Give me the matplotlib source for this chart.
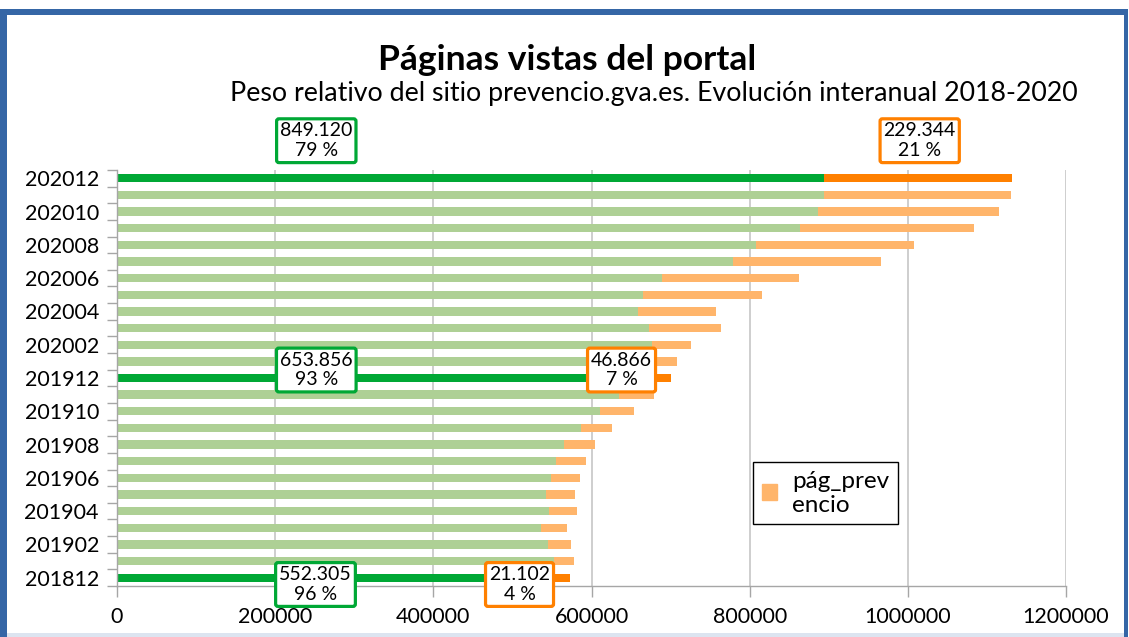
import matplotlib
matplotlib.use("Agg")
import matplotlib.pyplot as plt
from matplotlib.patches import Patch, Rectangle
from matplotlib.legend_handler import HandlerPatch

plt.rcParams['font.family'] = ['Lato', 'DejaVu Sans']

# ---- data (201812 -> 202012) ----
months = ['201812', '201901', '201902', '201903', '201904', '201905', '201906',
          '201907', '201908', '201909', '201910', '201911', '201912',
          '202001', '202002', '202003', '202004', '202005', '202006',
          '202007', '202008', '202009', '202010', '202011', '202012']
pag_resto = [552305, 552700, 545000, 536400, 546400, 542700, 549100,
             555400, 565300, 586100, 611300, 634800, 653856,
             668000, 676700, 673000, 658300, 665700, 689500,
             779500, 808500, 864000, 887000, 894300, 894300]
pag_prevencio = [21102, 25200, 29300, 32500, 35100, 36600, 36500,
                 37900, 39200, 39600, 42000, 44100, 46866,
                 40400, 49600, 90900, 99700, 150100, 173200,
                 186000, 199700, 219100, 227800, 235600, 237900]
highlight = ['201812', '201912', '202012']
xticks = [0, 200000, 400000, 600000, 800000, 1000000, 1200000]

# annotation boxes: (text, x value, y position in category units, colour key)
box_texts = ['849.120\n79 %', '229.344\n21 %',
             '653.856\n93 %', '46.866\n7 %',
             '552.305\n96 %', '21.102\n4 %']
box_x = [252000, 1015000, 252000, 638000, 251000, 509000]
box_y = [26.26, 26.26, 12.48, 12.48, -0.41, -0.41]
box_kind = ['g', 'o', 'g', 'o', 'g', 'o']

title = 'Páginas vistas del portal'
subtitle = 'Peso relativo del sitio prevencio.gva.es. Evolución interanual 2018-2020'
legend_label = 'pág_prev\nencio'

# ---- colours ----
G_LIGHT = '#aed095'
G_DARK = '#00a835'
O_LIGHT = '#ffb56b'
O_DARK = '#ff8000'

W, H = 1129, 637
fig = plt.figure(figsize=(W / 100, H / 100), dpi=100)
fig.patch.set_facecolor('white')

ax = fig.add_axes([117 / W, 1 - 586 / H, (1066 - 117) / W, (586 - 170) / H])

ypos = list(range(len(months)))
gcol = [G_DARK if m in highlight else G_LIGHT for m in months]
ocol = [O_DARK if m in highlight else O_LIGHT for m in months]
ax.barh(ypos, pag_resto, height=0.5, color=gcol, zorder=2)
ax.barh(ypos, pag_prevencio, left=pag_resto, height=0.5, color=ocol, zorder=2)

ax.set_xlim(0, 1200000)
ax.set_ylim(-0.5, len(months) - 0.5)

ax.set_xticks(xticks)
ax.set_xticklabels([str(v) for v in xticks])
ax.set_yticks(ypos[::2])
ax.set_yticklabels(months[::2])
ax.set_yticks([i - 0.5 for i in range(len(months) + 1)], minor=True)

ax.tick_params(axis='y', which='major', length=0, pad=13, labelsize=15.5)
ax.tick_params(axis='y', which='minor', length=7, width=1, color='#a6a6a6')
ax.tick_params(axis='x', which='major', length=8, width=1, color='#a6a6a6',
               pad=7, labelsize=15.5)

ax.grid(axis='x', color='#c6c6c6', linewidth=1.2, zorder=0)
ax.set_axisbelow(True)
for s in ['top', 'right']:
    ax.spines[s].set_visible(False)
for s in ['left', 'bottom']:
    ax.spines[s].set_color('#a6a6a6')
    ax.spines[s].set_linewidth(1)

# annotation boxes
for t, x, y, k in zip(box_texts, box_x, box_y, box_kind):
    ec = G_DARK if k == 'g' else O_DARK
    ax.text(x, y, t, ha='center', va='center', fontsize=14, linespacing=1.2,
            zorder=6, clip_on=False,
            bbox=dict(boxstyle='round,pad=0.18,rounding_size=0.12', fc='white',
                      ec=ec, lw=2.3))


# legend (only the prevencio series)
def centred_square(legend, orig_handle, xdescent, ydescent, width, height, fontsize):
    s = width
    return Rectangle((-xdescent, -ydescent + (height - s) / 2 + 0.05 * fontsize), s, s)


leg = fig.legend(handles=[Patch(facecolor=O_LIGHT, edgecolor=O_LIGHT)],
                 labels=[legend_label], loc='upper left',
                 bbox_to_anchor=(753 / W, 1 - 462 / H), borderaxespad=0,
                 fontsize=17.5, frameon=True, fancybox=False, framealpha=1,
                 edgecolor='black', handlelength=0.65, handleheight=0.65,
                 handletextpad=0.6, borderpad=0.35,
                 handler_map={Patch: HandlerPatch(patch_func=centred_square)})
leg.get_frame().set_linewidth(1.0)

# titles
fig.text(567 / W, 1 - 60 / H, title, ha='center', va='center',
         fontsize=25.5, fontweight='bold')
fig.text(654 / W, 1 - 93 / H, subtitle, ha='center', va='center', fontsize=19.3)

# frame of the original chart object
def frect(x0, y0, x1, y1, color):
    fig.patches.append(Rectangle((x0 / W, 1 - y1 / H), (x1 - x0) / W, (y1 - y0) / H,
                                 transform=fig.transFigure, color=color,
                                 zorder=10, lw=0))

BLUE = '#3566a6'
frect(0, 9, 1127, 15, BLUE)
frect(0, 9, 7, 637, BLUE)
frect(1124, 9, 1128, 637, BLUE)
frect(7, 633, 1124, 637, '#dce4f0')

fig.savefig('out.png', dpi=100, facecolor='white')
